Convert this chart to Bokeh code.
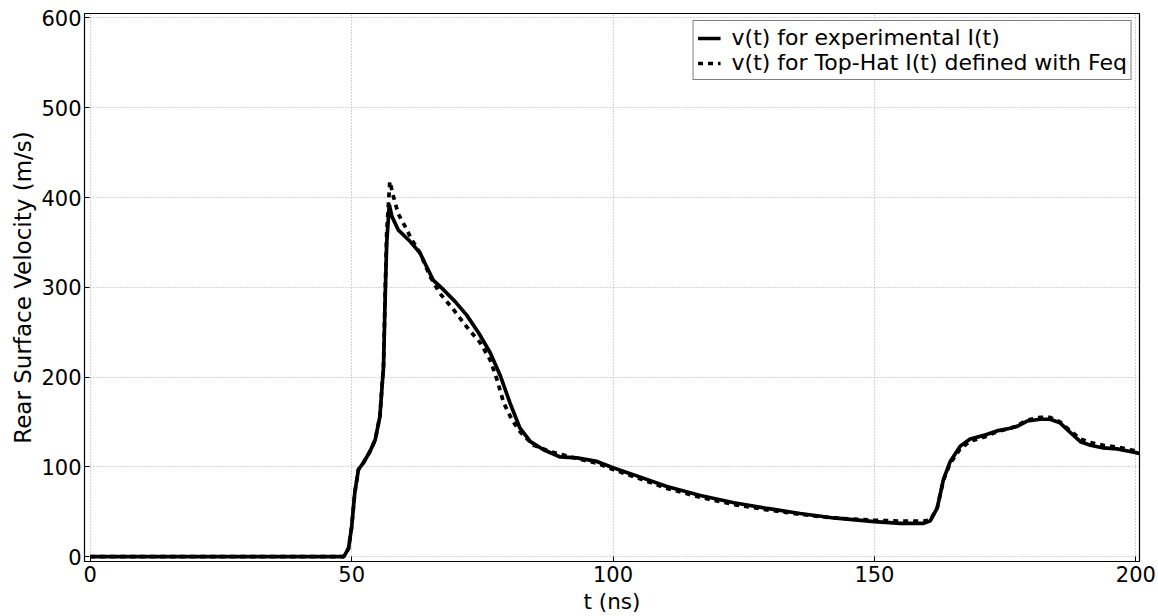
from bokeh.plotting import figure
from bokeh.models import Range1d, FixedTicker, Legend, LegendItem
from bokeh.embed import file_html
from bokeh.resources import INLINE

# Data
t_exp = [0, 48.5, 49.4, 50.0, 50.6, 51.3, 52.2, 53.5, 54.5, 55.4, 56.1, 56.4, 56.7, 57.2, 57.7,
         58.9, 61.2, 63.1, 64.0, 65.6, 67.6, 69.8, 72.0, 74.3, 76.5, 78.4, 80.3, 82.2, 84.2,
         86.7, 89.9, 93.1, 96.9, 100.0, 104.0, 110.3, 116.7, 123.1, 129.5, 135.8, 142.2, 150.0,
         155.0, 159.4, 160.7, 162.0, 163.2, 164.5, 166.4, 168.3, 170.9, 173.4, 176.0, 177.3,
         179.2, 181.7, 183.6, 185.5, 187.5, 189.4, 191.3, 193.8, 196.4, 198.9, 200.7]
v_exp = [0, 0, 9, 33, 71, 97, 104, 117, 130, 156, 212, 286, 349, 392, 379,
         364, 351, 338, 327, 308, 297, 284, 269, 249, 227, 202, 171, 143, 128,
         119, 111, 110, 106, 99, 91, 78, 68, 60, 53.6, 48, 43, 39,
         37, 37, 40, 54, 86, 106, 123, 131, 135, 140, 143, 145,
         151, 153, 153, 149, 138, 128, 124, 121, 120, 117, 115]

t_top = [0, 48.5, 49.4, 50.0, 50.6, 51.3, 52.2, 53.5, 54.5, 55.4, 56.1, 56.4, 56.7, 57.3, 58.0,
         58.9, 60.2, 61.5, 63.1, 65.0, 66.9, 69.5, 72.0, 74.6, 76.5, 77.8, 79.1, 80.7, 82.2,
         84.8, 88.0, 91.8, 96.9, 100.0, 104.0, 110.3, 116.7, 123.1, 129.5, 135.8, 142.2, 150.0,
         155.0, 159.4, 160.7, 162.0, 163.2, 164.5, 166.4, 168.3, 170.9, 173.4, 176.0, 177.3,
         179.2, 181.7, 183.6, 185.5, 187.5, 189.4, 191.3, 193.8, 196.4, 198.9, 200.7]
v_top = [0, 0, 9, 33, 71, 97, 104, 117, 130, 156, 214, 292, 360, 418, 401,
         382, 368, 353, 338, 312, 293, 275, 256, 238, 219, 197, 171, 152, 139,
         124, 117, 111, 104, 97, 89, 76, 66, 58, 52, 47, 43, 40.5,
         39.5, 39.5, 41, 54, 85, 104, 120, 128.5, 133, 139, 143, 146,
         152, 155, 155, 150, 140, 131, 127, 124, 122, 119, 117]

x_ticks = [0, 50, 100, 150, 200]
y_ticks = [0, 100, 200, 300, 400, 500, 600]
label_exp = "v(t) for experimental I(t)"
label_top = "v(t) for Top-Hat I(t) defined with Feq"

FONT = "DejaVu Sans"

p = figure(width=1158, height=616, output_backend="svg", toolbar_location=None,
           x_range=Range1d(-1.1, 200.7), y_range=Range1d(-5.5, 605),
           min_border_left=84, min_border_right=19, min_border_top=13, min_border_bottom=54)
p.background_fill_color = "white"
p.border_fill_color = "white"
p.outline_line_color = "black"
p.outline_line_width = 1.2

r1 = p.line(t_exp, v_exp, line_color="black", line_width=3.7)
r2 = p.line(t_top, v_top, line_color="black", line_width=3.7, line_dash="5 5")

for ax in p.xaxis + p.yaxis:
    ax.axis_line_color = None
    ax.major_tick_in = 5
    ax.major_tick_out = 0
    ax.minor_tick_line_color = None
    ax.major_tick_line_color = "black"
    ax.major_label_text_font = FONT
    ax.major_label_text_font_size = "21px"
    ax.major_label_text_color = "black"
    ax.axis_label_text_font = FONT
    ax.axis_label_text_font_style = "normal"
    ax.axis_label_text_color = "black"

p.xaxis.ticker = FixedTicker(ticks=x_ticks)
p.yaxis.ticker = FixedTicker(ticks=y_ticks)
p.xaxis.axis_label = "t (ns)"
p.yaxis.axis_label = "Rear Surface Velocity (m/s)"
p.xaxis.axis_label_text_font_size = "21.5px"
p.yaxis.axis_label_text_font_size = "23px"
p.xaxis.major_label_standoff = 4
p.xaxis.axis_label_standoff = 4
p.yaxis.major_label_standoff = 3
p.yaxis.axis_label_standoff = 2

p.xgrid.ticker = FixedTicker(ticks=x_ticks)
p.ygrid.ticker = FixedTicker(ticks=y_ticks)
for g in (p.xgrid, p.ygrid):
    g.grid_line_color = "#a8a8a8"
    g.grid_line_dash = "1 2"
    g.grid_line_width = 1

legend = Legend(items=[LegendItem(label=label_exp, renderers=[r1]),
                       LegendItem(label=label_top, renderers=[r2])],
                location="top_right")
legend.margin = 7
legend.padding = 4
legend.spacing = 0
legend.glyph_width = 23
legend.label_standoff = 11
legend.label_text_font = FONT
legend.label_text_font_size = "22px"
legend.label_text_color = "black"
legend.border_line_color = "black"
legend.border_line_width = 1
legend.background_fill_color = "white"
legend.background_fill_alpha = 1
p.add_layout(legend)

open("out.html", "w").write(file_html(p, INLINE))
